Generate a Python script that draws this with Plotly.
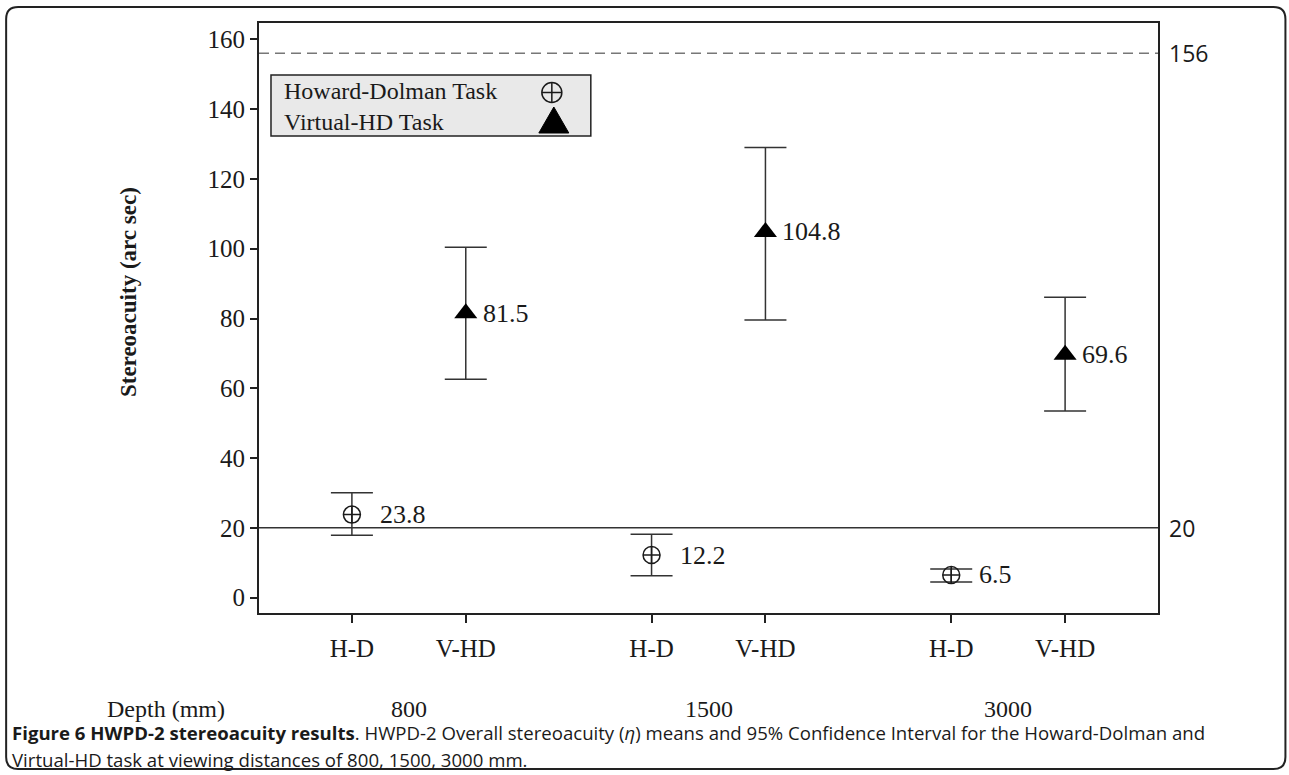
import plotly.graph_objects as go

# ---------------- data ----------------
depths = ["800", "1500", "3000"]
tick_names = ["H-D", "V-HD"]
hd_mean = [23.8, 12.2, 6.5]
hd_upper = [30.1, 18.2, 8.2]
hd_lower = [17.9, 6.3, 4.5]
vhd_mean = [81.5, 104.8, 69.6]
vhd_upper = [100.4, 129.0, 86.1]
vhd_lower = [62.6, 79.6, 53.5]
ref_upper = 156
ref_lower = 20
y_ticks = [0, 20, 40, 60, 80, 100, 120, 140, 160]

# ---------------- layout helpers ----------------
W, H = 1289, 775
L, R, T, B = 259, 1158.5, 23, 613
ml, mr, mt, mb = L, W - R, T, H - B


def px2x(px):
    return (px - L) / (R - L)


def px2y(py):
    return (B - py) / (B - T)


offset = 0.19
groups = [i + 1 for i in range(len(depths))]
x_hd = [g - offset for g in groups]
x_vhd = [g + offset for g in groups]

serif = "Liberation Serif, Times New Roman, serif"
sans = "Open Sans, Noto Sans, sans-serif"
ink = "#1a1a1a"

fig = go.Figure()

fig.add_trace(go.Scatter(
    x=x_hd, y=hd_mean, mode="markers", name="Howard-Dolman Task",
    marker=dict(symbol="circle-cross-open", size=17, color=ink,
                line=dict(width=1.5, color=ink)),
    error_y=dict(type="data", symmetric=False,
                 array=[u - m for u, m in zip(hd_upper, hd_mean)],
                 arrayminus=[m - l for m, l in zip(hd_mean, hd_lower)],
                 width=21, thickness=1.5, color="#333"),
    showlegend=False,
))
fig.add_trace(go.Scatter(
    x=x_vhd, y=vhd_mean, mode="markers", name="Virtual-HD Task",
    marker=dict(symbol="triangle-up", size=20, color="black"),
    error_y=dict(type="data", symmetric=False,
                 array=[u - m for u, m in zip(vhd_upper, vhd_mean)],
                 arrayminus=[m - l for m, l in zip(vhd_mean, vhd_lower)],
                 width=21, thickness=1.5, color="#333"),
    showlegend=False,
))

annotations = []
# value labels
for x, y in zip(x_hd, hd_mean):
    annotations.append(dict(x=x, y=y, xref="x", yref="y", text=f"{y}",
                            showarrow=False, xanchor="left", yanchor="middle",
                            xshift=26, font=dict(family=serif, size=26, color=ink)))
for x, y in zip(x_vhd, vhd_mean):
    annotations.append(dict(x=x, y=y, xref="x", yref="y", text=f"{y}",
                            showarrow=False, xanchor="left", yanchor="middle",
                            xshift=15, font=dict(family=serif, size=26, color=ink)))

# reference labels on right
annotations.append(dict(x=px2x(1168), y=ref_upper, xref="paper", yref="y",
                        text=str(ref_upper), showarrow=False, xanchor="left",
                        yanchor="middle", font=dict(family=sans, size=23, color=ink)))
annotations.append(dict(x=px2x(1168), y=ref_lower, xref="paper", yref="y",
                        text=str(ref_lower), showarrow=False, xanchor="left",
                        yanchor="middle", font=dict(family=sans, size=23, color=ink)))

# depth row
annotations.append(dict(x=px2x(166), y=px2y(709), xref="paper", yref="paper",
                        text="Depth (mm)", showarrow=False, xanchor="center",
                        yanchor="middle", borderpad=0,
                        font=dict(family=serif, size=24, color=ink)))
for g, d in zip(groups, depths):
    annotations.append(dict(x=g, y=px2y(709), xref="x", yref="paper", text=d,
                            showarrow=False, xanchor="center", yanchor="middle",
                            borderpad=0, font=dict(family=serif, size=24, color=ink)))

# y axis title
annotations.append(dict(x=px2x(128), y=px2y(292), xref="paper", yref="paper",
                        text="<b>Stereoacuity (arc sec)</b>", textangle=-90,
                        showarrow=False, xanchor="center", yanchor="middle",
                        font=dict(family=serif, size=23, color=ink)))

# legend text (custom box, symbols on the right drawn as shapes)
annotations.append(dict(x=px2x(282), y=px2y(91), xref="paper", yref="paper",
                        text="Howard-Dolman Task", showarrow=False, xanchor="left",
                        yanchor="middle", font=dict(family=serif, size=24, color=ink)))
annotations.append(dict(x=px2x(282), y=px2y(122), xref="paper", yref="paper",
                        text="Virtual-HD Task", showarrow=False, xanchor="left",
                        yanchor="middle", font=dict(family=serif, size=24, color=ink)))

# caption
annotations.append(dict(x=px2x(11), y=px2y(733), xref="paper", yref="paper",
                        text="<b>Figure 6 HWPD-2 stereoacuity results</b>. HWPD-2 Overall stereoacuity (<i>η</i>) means and 95% Confidence Interval for the Howard-Dolman and",
                        showarrow=False, xanchor="left", yanchor="middle", borderpad=0,
                        font=dict(family=sans, size=18.6, color=ink)))
annotations.append(dict(x=px2x(11), y=px2y(759), xref="paper", yref="paper",
                        text="Virtual-HD task at viewing distances of 800, 1500, 3000 mm.",
                        showarrow=False, xanchor="left", yanchor="middle", borderpad=0,
                        font=dict(family=sans, size=18.6, color=ink)))

# shapes
shapes = [
    dict(type="line", xref="paper", yref="y", x0=0, x1=1, y0=ref_upper, y1=ref_upper,
         line=dict(color="#777", width=1.5, dash="10px,6px")),
    dict(type="line", xref="paper", yref="y", x0=0, x1=1, y0=ref_lower, y1=ref_lower,
         line=dict(color="#333", width=1.5)),
    dict(type="rect", xref="paper", yref="paper",
         x0=px2x(271), x1=px2x(591), y0=px2y(136), y1=px2y(75),
         fillcolor="#e9e9e9", line=dict(color="#222", width=1.5), layer="below"),
]

# legend symbols
cx, cy, r = 552, 92.5, 10
shapes.append(dict(type="circle", xref="paper", yref="paper",
                   x0=px2x(cx - r), x1=px2x(cx + r), y0=px2y(cy + r), y1=px2y(cy - r),
                   line=dict(color=ink, width=1.5)))
shapes.append(dict(type="line", xref="paper", yref="paper",
                   x0=px2x(cx - r), x1=px2x(cx + r), y0=px2y(cy), y1=px2y(cy),
                   line=dict(color=ink, width=1.5)))
shapes.append(dict(type="line", xref="paper", yref="paper",
                   x0=px2x(cx), x1=px2x(cx), y0=px2y(cy - r), y1=px2y(cy + r),
                   line=dict(color=ink, width=1.5)))
shapes.append(dict(type="path", xref="paper", yref="paper",
                   path=f"M {px2x(539)} {px2y(133)} L {px2x(569)} {px2y(133)} "
                        f"L {px2x(554)} {px2y(107)} Z",
                   fillcolor="black", line=dict(color="black", width=1)))

# outer rounded frame
x0p, x1p, y0p, y1p, rr = 6, 1286, 7, 769, 12
pts = [
    f"M {px2x(x0p + rr)} {px2y(y0p)}",
    f"L {px2x(x1p - rr)} {px2y(y0p)}",
    f"Q {px2x(x1p)} {px2y(y0p)} {px2x(x1p)} {px2y(y0p + rr)}",
    f"L {px2x(x1p)} {px2y(y1p - rr)}",
    f"Q {px2x(x1p)} {px2y(y1p)} {px2x(x1p - rr)} {px2y(y1p)}",
    f"L {px2x(x0p + rr)} {px2y(y1p)}",
    f"Q {px2x(x0p)} {px2y(y1p)} {px2x(x0p)} {px2y(y1p - rr)}",
    f"L {px2x(x0p)} {px2y(y0p + rr)}",
    f"Q {px2x(x0p)} {px2y(y0p)} {px2x(x0p + rr)} {px2y(y0p)} Z",
]
shapes.append(dict(type="path", xref="paper", yref="paper", path=" ".join(pts),
                   line=dict(color="#222", width=2)))

tickvals = []
ticktext = []
for a, b in zip(x_hd, x_vhd):
    tickvals += [a, b]
    ticktext += tick_names

fig.update_layout(
    width=W, height=H,
    margin=dict(l=ml, r=mr, t=mt, b=mb, pad=0),
    paper_bgcolor="white", plot_bgcolor="white",
    showlegend=False,
    xaxis=dict(range=[0.5, 3.5], tickvals=tickvals, ticktext=ticktext,
               ticks="outside", ticklen=8, tickwidth=1.5, tickcolor="#222",
               showgrid=False, zeroline=False, showline=True, linecolor="#222",
               linewidth=2, mirror=True, ticklabelstandoff=4,
               tickfont=dict(family=serif, size=25, color=ink)),
    yaxis=dict(range=[-4.4, 164.7], tickvals=y_ticks,
               ticks="outside", ticklen=7, tickwidth=1.5, tickcolor="#222",
               showgrid=False, zeroline=False, showline=True, linecolor="#222",
               linewidth=2, mirror=True,
               tickfont=dict(family=serif, size=25, color=ink)),
    annotations=annotations,
    shapes=shapes,
)

fig.write_html(
    "out.html",
    config={"displayModeBar": False},
    post_script="document.body.style.margin='0';document.body.style.overflow='hidden';",
)
